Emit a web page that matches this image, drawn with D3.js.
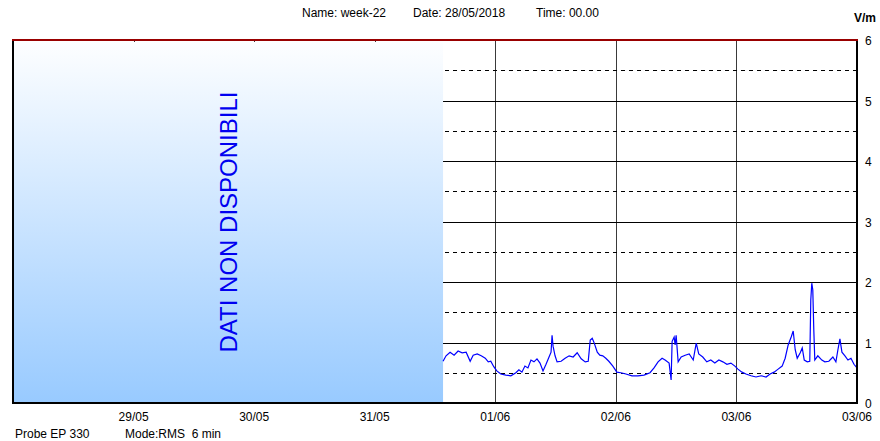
<!DOCTYPE html>
<html>
<head>
<meta charset="utf-8">
<script src="https://cdn.jsdelivr.net/npm/d3@7"></script>
<style>
  body { margin: 0; background: #fff; }
  text { font-family: "Liberation Sans", Arial, sans-serif; }
</style>
</head>
<body>
<script>
"use strict";

// hours since 28/05/2018 00:00
var hours = [85.6, 86.2, 87.0, 87.8, 88.6, 89.4, 90.2, 91.0, 91.6, 92.4, 93.2, 94.0, 94.6, 95.1, 95.7,
    96.3, 97.1, 98.1, 99.1, 100.1, 100.7, 101.3, 101.9, 102.5, 103.1, 103.7, 104.3, 104.9, 105.5, 106.1,
    106.7, 107.1, 107.3, 107.5, 107.9, 108.3, 109.1, 109.9, 110.7, 111.5, 112.3, 113.1, 113.9, 114.5,
    114.9, 115.3, 115.7, 116.3, 116.8, 117.4, 118.0, 118.6, 119.4, 120.2, 121.0, 122.0, 123.2, 124.4,
    125.6, 126.8, 127.6, 128.4, 129.2, 129.8, 130.6, 131.0, 131.2, 131.6, 131.8, 132.0, 132.4, 133.0,
    133.8, 134.6, 135.4, 136.0, 136.5, 137.3, 138.1, 138.9, 139.7, 140.5, 141.3, 142.1, 142.9, 143.7,
    144.3, 145.1, 145.9, 146.9, 147.9, 148.9, 149.9, 150.7, 151.5, 152.3, 153.1, 153.7, 154.3, 154.9,
    155.3, 155.7, 156.1, 156.7, 157.1, 157.5, 158.1, 158.6, 158.8, 159.0, 159.2, 159.4, 159.6, 160.2,
    161.0, 161.6, 162.4, 163.2, 163.8, 164.2, 164.6, 165.0, 165.6, 166.2, 166.8, 167.4, 168.0];
// field values, V/m
var values = [0.69, 0.78, 0.84, 0.79, 0.86, 0.83, 0.84, 0.69, 0.79, 0.81, 0.78, 0.74, 0.68, 0.69, 0.60,
    0.53, 0.48, 0.46, 0.45, 0.50, 0.55, 0.51, 0.61, 0.58, 0.71, 0.68, 0.73, 0.66, 0.53, 0.64,
    0.76, 0.84, 1.12, 0.94, 0.78, 0.68, 0.69, 0.74, 0.78, 0.76, 0.83, 0.73, 0.68, 0.69,
    1.04, 1.07, 0.99, 0.84, 0.79, 0.78, 0.74, 0.69, 0.61, 0.51, 0.50, 0.48, 0.45, 0.45,
    0.46, 0.50, 0.58, 0.68, 0.74, 0.71, 0.66, 0.38, 1.02, 1.09, 0.96, 1.12, 0.68, 0.76,
    0.79, 0.81, 0.71, 0.99, 0.81, 0.76, 0.68, 0.71, 0.66, 0.71, 0.68, 0.64, 0.66, 0.61,
    0.56, 0.51, 0.48, 0.45, 0.43, 0.45, 0.43, 0.48, 0.51, 0.56, 0.61, 0.74, 0.96, 1.09,
    1.19, 0.88, 0.74, 0.83, 0.91, 0.71, 0.68, 0.69, 1.70, 1.98, 1.87, 1.21, 0.71, 0.78,
    0.71, 0.68, 0.69, 0.76, 0.68, 0.88, 1.06, 0.84, 0.78, 0.71, 0.74, 0.64, 0.58];

var dayTicks = [1, 2, 3, 4, 5, 6, 7];
var dayLabels = ["29/05", "30/05", "31/05", "01/06", "02/06", "03/06", "03/06"];
var yTicks = [0, 1, 2, 3, 4, 5, 6];
var yHalfTicks = [0.5, 1.5, 2.5, 3.5, 4.5, 5.5];
var missingUntil = 85.6; // hours with no data

function draw_chart() {
    var width = 880, height = 441;
    var left = 13, right = 857, top = 40, bottom = 403;

    var svg = d3.select("body").append("svg")
        .attr("width", width)
        .attr("height", height);

    var x = d3.scaleLinear().domain([0, 7]).range([left, right]);
    var y = d3.scaleLinear().domain([0, 6]).range([bottom, top]);

    var g = svg.append("defs").append("linearGradient")
        .attr("id", "nodata")
        .attr("x1", 0).attr("y1", 0).attr("x2", 0).attr("y2", 1);
    g.append("stop").attr("offset", "0%").attr("stop-color", "#fdfeff");
    g.append("stop").attr("offset", "100%").attr("stop-color", "#98caff");

    // grid
    svg.selectAll("line.vg").data(dayTicks.slice(0, 6)).enter().append("line")
        .attr("x1", function(d) { return Math.round(x(d)) + 0.5; })
        .attr("x2", function(d) { return Math.round(x(d)) + 0.5; })
        .attr("y1", top).attr("y2", bottom)
        .attr("stroke", "#3a3a3a").attr("stroke-width", 1);
    svg.selectAll("line.hg").data(yTicks.slice(1, 6)).enter().append("line")
        .attr("x1", left).attr("x2", right)
        .attr("y1", function(d) { return Math.round(y(d)) + 0.5; })
        .attr("y2", function(d) { return Math.round(y(d)) + 0.5; })
        .attr("stroke", "#000").attr("stroke-width", 1);
    svg.selectAll("line.hd").data(yHalfTicks).enter().append("line")
        .attr("x1", left).attr("x2", right)
        .attr("y1", function(d) { return Math.round(y(d)) + 0.5; })
        .attr("y2", function(d) { return Math.round(y(d)) + 0.5; })
        .attr("stroke", "#000").attr("stroke-width", 1)
        .attr("stroke-dasharray", "4,4");

    // no-data panel
    svg.append("rect")
        .attr("x", left + 1).attr("y", top + 2)
        .attr("width", x(missingUntil / 24) - left - 1)
        .attr("height", bottom - top - 2)
        .attr("fill", "url(#nodata)");
    var cx = (left + x(missingUntil / 24)) / 2;
    svg.append("text")
        .attr("transform", "translate(" + (cx + 9) + "," + 222 + ")rotate(-90)")
        .attr("text-anchor", "middle")
        .attr("font-size", "24px")
        .attr("fill", "#0000f0")
        .text("DATI NON DISPONIBILI");

    // series
    var pts = hours.map(function(h, i) { return [h / 24, values[i]]; });
    var line = d3.line()
        .x(function(d) { return x(d[0]); })
        .y(function(d) { return y(d[1]); });
    svg.append("path")
        .attr("d", line(pts))
        .attr("fill", "none")
        .attr("stroke", "#0000ff")
        .attr("stroke-width", 1.2);

    // frame
    svg.append("line").attr("x1", left).attr("x2", left).attr("y1", top).attr("y2", bottom + 1)
        .attr("stroke", "#000").attr("stroke-width", 2);
    svg.append("line").attr("x1", right).attr("x2", right).attr("y1", top).attr("y2", bottom + 1)
        .attr("stroke", "#000").attr("stroke-width", 2);
    svg.append("line").attr("x1", left - 1).attr("x2", right + 1).attr("y1", bottom).attr("y2", bottom)
        .attr("stroke", "#000").attr("stroke-width", 2);
    svg.append("line").attr("x1", left - 1).attr("x2", right + 1).attr("y1", top).attr("y2", top)
        .attr("stroke", "#990000").attr("stroke-width", 2);

    // y labels
    svg.selectAll("text.yl").data(yTicks).enter().append("text")
        .attr("x", 865)
        .attr("y", function(d) { return y(d) + 5; })
        .attr("font-size", "12px")
        .attr("fill", "#000")
        .text(function(d) { return d; });

    // x labels
    svg.selectAll("text.xl").data(dayTicks).enter().append("text")
        .attr("x", function(d) { return x(d); })
        .attr("y", 421)
        .attr("text-anchor", "middle")
        .attr("font-size", "12px")
        .text(function(d, i) { return dayLabels[i]; });

    // header / footer
    var hdr = [["Name: week-22", 302], ["Date: 28/05/2018", 413], ["Time: 00.00", 536]];
    svg.selectAll("text.hd").data(hdr).enter().append("text")
        .attr("x", function(d) { return d[1]; })
        .attr("y", 17)
        .attr("font-size", "12px")
        .text(function(d) { return d[0]; });
    svg.append("text").attr("x", 854).attr("y", 22)
        .attr("font-size", "12px").attr("font-weight", "bold")
        .text("V/m");
    svg.append("text").attr("x", 15).attr("y", 438).attr("font-size", "12px").text("Probe EP 330");
    svg.append("text").attr("x", 125).attr("y", 438).attr("font-size", "12px")
        .style("white-space", "pre").text("Mode:RMS  6 min");
}

draw_chart();
</script>
</body>
</html>
